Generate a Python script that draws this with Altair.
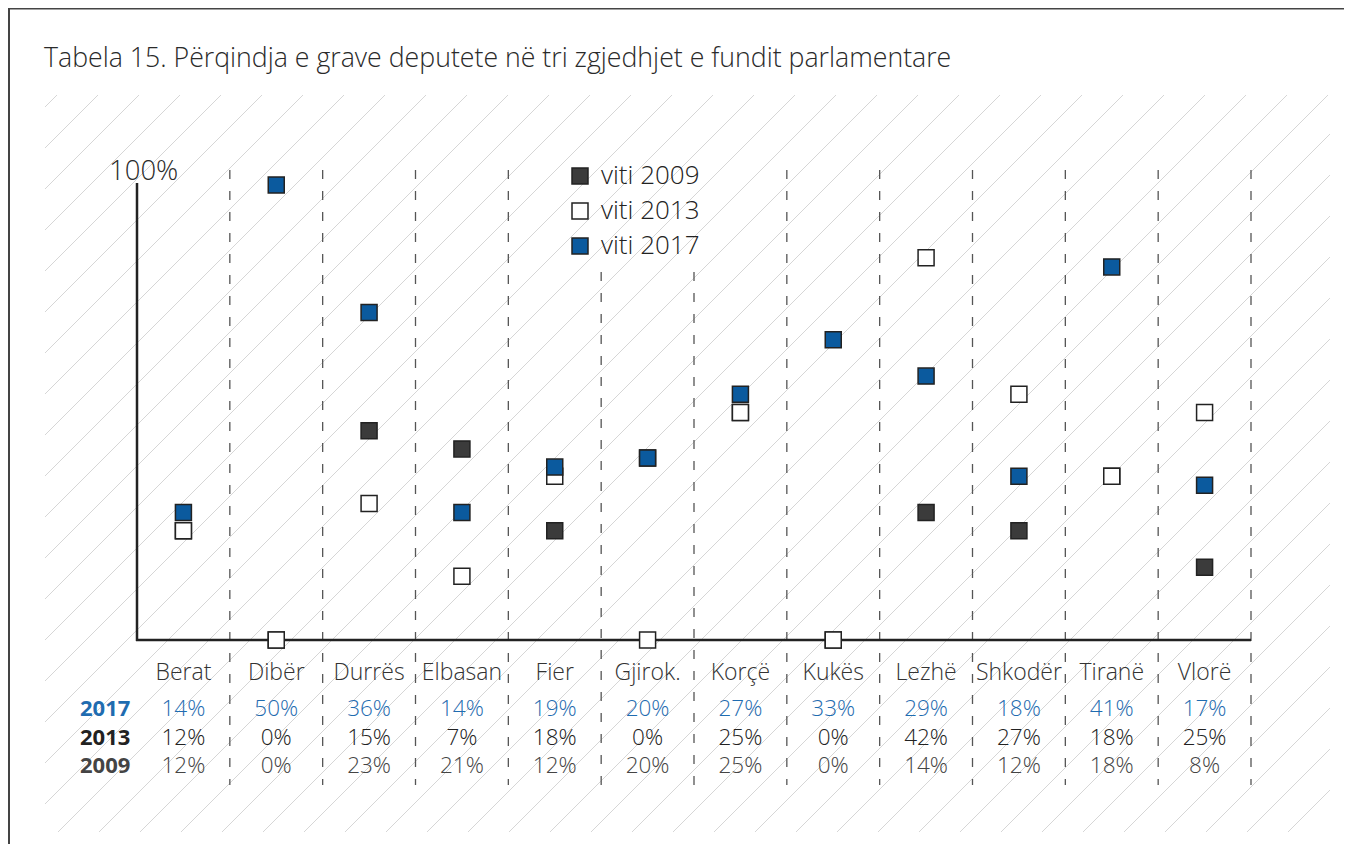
import altair as alt
import pandas as pd
import numpy as np

# ---------------- data ----------------
categories = ["Berat", "Dibër", "Durrës", "Elbasan", "Fier", "Gjirok.",
              "Korçë", "Kukës", "Lezhë", "Shkodër", "Tiranë", "Vlorë"]
v2009 = [12, 0, 23, 21, 12, 20, 25, 0, 14, 12, 18, 8]
v2013 = [12, 0, 15, 7, 18, 0, 25, 0, 42, 27, 18, 25]
v2017 = [14, 50, 36, 14, 19, 20, 27, 33, 29, 18, 41, 17]
years = ["2009", "2013", "2017"]
legend_labels = ["viti 2009", "viti 2013", "viti 2017"]
table_rows = ["2017", "2013", "2009"]
title_text = "Tabela 15. Përqindja e grave deputete në tri zgjedhjet e fundit parlamentare"
y_top_label = "100%"

# ---------------- styles ----------------
FONT = "Open Sans"
W, H = 1336, 836
fill_colors = ["#3b3b3b", "#ffffff", "#0b5a9e"]
row_colors = ["#1f6cb0", "#222222", "#444444"]
TEXT = "#333333"

values_by_year = {"2009": v2009, "2013": v2013, "2017": v2017}

points = pd.DataFrame([
    {"cat": c, "value": v, "series": "viti " + y, "order": i}
    for i, y in enumerate(years)
    for c, v in zip(categories, values_by_year[y])
])
table = pd.DataFrame([
    {"cat": c, "row": r, "label": f"{v}%"}
    for r in table_rows
    for c, v in zip(categories, values_by_year[r])
])
cats_df = pd.DataFrame({"cat": categories})
rows_df = pd.DataFrame({"row": table_rows})

# decorative diagonal hatch (background pattern, pixel space)
x0, x1, y0, y1 = 37, 1322, 87, 824
segs = []
for c in np.arange(1366 - 41 * 31, 1366 + 41 * 21, 41):
    xa = max(x0, c - y1)
    xb = min(x1, c - y0)
    if xb - xa > 1:
        segs.append({"x1": xa, "y1": c - xa, "x2": xb, "y2": c - xb})
hatch_df = pd.DataFrame(segs)

xscale = alt.Scale(domain=categories, range=[129, 1243], paddingInner=0, paddingOuter=0)
yscale = alt.Scale(domain=[0, 50], range=[632, 177])
rowscale = alt.Scale(type="point", domain=table_rows, range=[708, 765], padding=0)
rowcolor = alt.Scale(domain=table_rows, range=row_colors)

hatch = alt.Chart(hatch_df).mark_rule(stroke="#d6d6d6", strokeWidth=1).encode(
    x=alt.X("x1:Q", scale=None, axis=None),
    y=alt.Y("y1:Q", scale=None, axis=None),
    x2="x2:Q", y2="y2:Q",
)

border_top = alt.Chart(cats_df.head(1)).mark_rule(stroke="#444", strokeWidth=2).encode(
    x=alt.value(0), x2=alt.value(W), y=alt.value(0.5))
border_left = alt.Chart(cats_df.head(1)).mark_rule(stroke="#444", strokeWidth=2).encode(
    x=alt.value(1), y=alt.value(0), y2=alt.value(H))

title = alt.Chart(pd.DataFrame({"t": [title_text]})).mark_text(
    font=FONT, fontSize=26.7, fontWeight=300, color="#2a2a2a", align="left", baseline="alphabetic"
).encode(x=alt.value(36), y=alt.value(59), text="t:N")

dash_kw = dict(stroke="#555", strokeWidth=1.3, strokeDash=[9, 12])
dashes_full = alt.Chart(cats_df).mark_rule(**dash_kw).encode(
    x=alt.X("cat:N", scale=xscale, axis=None, bandPosition=1),
    y=alt.value(162), y2=alt.value(777),
).transform_filter(alt.FieldOneOfPredicate(field="cat", oneOf=[c for c in categories if c not in ("Fier", "Gjirok.")]))
dashes_short = alt.Chart(cats_df).mark_rule(**dash_kw).encode(
    x=alt.X("cat:N", scale=xscale, axis=None, bandPosition=1),
    y=alt.value(264), y2=alt.value(777),
).transform_filter(alt.FieldOneOfPredicate(field="cat", oneOf=["Fier", "Gjirok."]))

axis_y = alt.Chart(cats_df.head(1)).mark_rule(stroke="#222", strokeWidth=2.5).encode(
    x=alt.value(129), y=alt.value(175), y2=alt.value(633))
axis_x = alt.Chart(cats_df.head(1)).mark_rule(stroke="#222", strokeWidth=2.5).encode(
    x=alt.value(128), x2=alt.value(1243), y=alt.value(632))

top_label = alt.Chart(pd.DataFrame({"t": [y_top_label]})).mark_text(
    font=FONT, fontSize=27.5, fontWeight=300, color="#2a2a2a", align="left", baseline="alphabetic"
).encode(x=alt.value(101), y=alt.value(172), text="t:N")

pts = alt.Chart(points).mark_square(size=256, stroke="#222", strokeWidth=1.5, opacity=1).encode(
    x=alt.X("cat:N", scale=xscale, axis=None),
    y=alt.Y("value:Q", scale=yscale, axis=None),
    fill=alt.Fill("series:N", scale=alt.Scale(domain=legend_labels, range=fill_colors),
                  legend=alt.Legend(title=None, orient="none", legendX=559, legendY=155,
                                    direction="vertical", symbolType="square", symbolSize=256,
                                    symbolStrokeColor="#222", symbolStrokeWidth=1.5,
                                    labelFont=FONT, labelFontSize=26, labelFontWeight=300,
                                    labelColor="#222", labelOffset=8, rowPadding=9, padding=0)),
    order=alt.Order("order:Q"),
)

cat_labels = alt.Chart(cats_df).mark_text(
    font=FONT, fontSize=23, fontWeight=300, color=TEXT, baseline="alphabetic"
).encode(x=alt.X("cat:N", scale=xscale, axis=None), y=alt.value(672), text="cat:N")

vals = alt.Chart(table).mark_text(font=FONT, fontSize=22.5, fontWeight=300, baseline="alphabetic").encode(
    x=alt.X("cat:N", scale=xscale, axis=None),
    y=alt.Y("row:N", scale=rowscale, axis=None),
    color=alt.Color("row:N", scale=rowcolor, legend=None),
    text="label:N",
)

row_labels = alt.Chart(rows_df).mark_text(font=FONT, fontSize=22, fontWeight="bold",
                                          align="left", baseline="alphabetic").encode(
    x=alt.value(72),
    y=alt.Y("row:N", scale=rowscale, axis=None),
    color=alt.Color("row:N", scale=rowcolor, legend=None),
    text="row:N",
)

chart = alt.layer(
    hatch, border_top, border_left, title, dashes_full, dashes_short, axis_y, axis_x,
    top_label, pts, cat_labels, vals, row_labels
).resolve_scale(x="independent", y="independent").properties(
    width=W, height=H, autosize=alt.AutoSizeParams(type="none"), padding=0,
    background="#ffffff",
).configure_view(stroke=None)

chart.save("out.html", embed_options={"renderer": "svg", "actions": False})
